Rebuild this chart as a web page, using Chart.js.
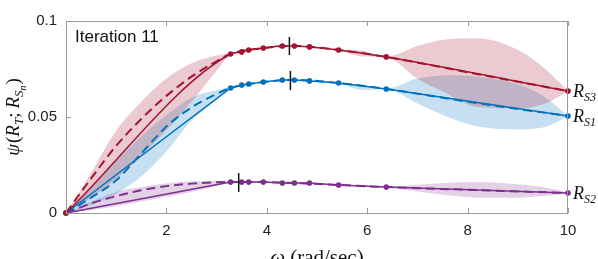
<!DOCTYPE html>
<html>
<head>
<meta charset="utf-8">
<script src="https://cdn.jsdelivr.net/npm/chart.js@4/dist/chart.umd.min.js"></script>
<style>
  body { margin: 0; background: #fff; }
  canvas { display: block; }
</style>
</head>
<body>
<canvas id="grafico" width="598" height="259"></canvas>
<script>
// observed points (omega, psi)
const xObs = [0, 3.28, 3.50, 3.64, 3.93, 4.31, 4.55, 4.85, 5.43, 6.38, 10];
const rS3 = [0, 0.0828, 0.0839, 0.0849, 0.0859, 0.0870, 0.0870, 0.0865, 0.0849, 0.0813, 0.0635];
const rS1 = [0, 0.0651, 0.0667, 0.0672, 0.0682, 0.0693, 0.0693, 0.0688, 0.0677, 0.0646, 0.0505];
const rS2 = [0, 0.0161, 0.0161, 0.0161, 0.0161, 0.0156, 0.0156, 0.0156, 0.0146, 0.0135, 0.0104];

// model mean (dashed)
const meanX = [0, 0.5, 1, 1.5, 2, 2.5, 3, 3.28, 3.93, 4.55, 5.43, 6.38, 8, 10];
const meanS3 = [0, 0.018, 0.035, 0.049, 0.061, 0.071, 0.079, 0.0828, 0.0859, 0.0870, 0.0849, 0.0813, 0.0733, 0.0635];
const meanS1 = [0, 0.008, 0.017, 0.031, 0.045, 0.055, 0.062, 0.0651, 0.0682, 0.0693, 0.0677, 0.0646, 0.0580, 0.0505];
const meanS2 = [0, 0.005, 0.0088, 0.0118, 0.0140, 0.0153, 0.0160, 0.0161, 0.0161, 0.0156, 0.0146, 0.0135, 0.0121, 0.0104];

// confidence bands
const bandX = [0, 0.5, 1, 1.5, 2, 2.5, 3, 3.28, 3.9, 4.55, 5.43, 5.9, 6.38, 7, 7.6, 8.2, 9, 9.5, 10];
const hiS3 = [0, 0.021, 0.043, 0.058, 0.070, 0.078, 0.082, 0.0832, 0.0862, 0.0873, 0.0852, 0.0845, 0.0815, 0.0870, 0.0905, 0.0910, 0.0850, 0.0760, 0.0637];
const loS3 = [0, 0.008, 0.018, 0.030, 0.043, 0.058, 0.074, 0.0824, 0.0856, 0.0867, 0.0846, 0.0815, 0.0811, 0.0700, 0.0620, 0.0552, 0.0545, 0.0565, 0.0633];
const hiS1 = [0, 0.013, 0.027, 0.040, 0.051, 0.060, 0.064, 0.0655, 0.0685, 0.0696, 0.0680, 0.0668, 0.0648, 0.0700, 0.0718, 0.0710, 0.0670, 0.0610, 0.0507];
const loS1 = [0, 0.004, 0.010, 0.019, 0.032, 0.048, 0.059, 0.0647, 0.0679, 0.0690, 0.0674, 0.0640, 0.0644, 0.0570, 0.0500, 0.0450, 0.0435, 0.0445, 0.0503];
const hiS2 = [0, 0.006, 0.011, 0.0135, 0.0155, 0.0165, 0.0168, 0.0164, 0.0163, 0.0158, 0.0148, 0.0143, 0.0137, 0.0147, 0.0158, 0.0162, 0.0150, 0.0135, 0.0106];
const loS2 = [0, 0.0015, 0.0035, 0.006, 0.0085, 0.011, 0.014, 0.0158, 0.0159, 0.0154, 0.0144, 0.0137, 0.0133, 0.0112, 0.0092, 0.0080, 0.0079, 0.0088, 0.0102];

// selected point markers (vertical bars)
const markX = [4.45, 4.47, 3.44];
const markLo = [0.0823, 0.064, 0.011];
const markHi = [0.0917, 0.074, 0.0208];

const seriesSub = ['S3', 'S1', 'S2'];
const xTicks = [2, 4, 6, 8, 10];
const yTicks = [0, 0.05, 0.1];

const cores = ['#A2142F', '#0072BD', '#7E2F8E'];
const faixas = ['rgba(162,20,47,0.22)', 'rgba(0,114,189,0.22)', 'rgba(126,47,142,0.22)'];
const curvo = [true, false, false]; // linha vermelha sai da origem curvada

const pts = (xs, ys) => xs.map((x, i) => ({ x: x, y: ys[i] }));

const obs = [rS3, rS1, rS2];
const means = [meanS3, meanS1, meanS2];
const his = [hiS3, hiS1, hiS2];
const los = [loS3, loS1, loS2];

const datasets = [];
for (let k = 0; k < 3; k++) {
  datasets.push({
    data: pts(bandX, his[k]), borderWidth: 0, pointRadius: 0,
    backgroundColor: faixas[k], fill: '+1', tension: 0.4, cubicInterpolationMode: 'monotone', order: 3
  });
  datasets.push({
    data: pts(bandX, los[k]), borderWidth: 0, pointRadius: 0,
    fill: false, tension: 0.4, cubicInterpolationMode: 'monotone', order: 3
  });
}
for (let k = 0; k < 3; k++) {
  datasets.push({
    data: pts(meanX, means[k]), borderColor: cores[k], borderWidth: 2, borderDash: [9, 5],
    pointRadius: 0, fill: false, cubicInterpolationMode: 'monotone', order: 2
  });
  datasets.push({
    data: pts(xObs, obs[k]), borderColor: cores[k], backgroundColor: cores[k], borderWidth: 1.5,
    pointRadius: 2.8, pointBorderWidth: 0, fill: false, clip: false, order: 1,
    tension: curvo[k] ? 0.4 : 0, cubicInterpolationMode: curvo[k] ? 'monotone' : 'default'
  });
  datasets.push({
    data: [{ x: markX[k], y: markLo[k] }, { x: markX[k], y: markHi[k] }],
    borderColor: '#111', borderWidth: 1.5, pointRadius: 0, fill: false, order: 0
  });
}

// caixa, ticks para dentro e textos (títulos em estilo LaTeX)
function runs(ctx, parts, x, y) {
  parts.forEach(p => {
    ctx.font = (p.it ? 'italic ' : '') + p.s + 'px "Liberation Serif"';
    ctx.fillText(p.t, x, y + (p.dy || 0));
    x += ctx.measureText(p.t).width + (p.gap || 0);
  });
}
function runsWidth(ctx, parts) {
  let w = 0;
  parts.forEach(p => {
    ctx.font = (p.it ? 'italic ' : '') + p.s + 'px "Liberation Serif"';
    w += ctx.measureText(p.t).width + (p.gap || 0);
  });
  return w;
}

const extras = {
  id: 'extras',
  afterDraw(chart) {
    const ctx = chart.ctx, a = chart.chartArea;
    const sx = chart.scales.x, sy = chart.scales.y;
    ctx.save();
    ctx.strokeStyle = '#9a9a9a';
    ctx.lineWidth = 1;
    ctx.strokeRect(a.left + 0.5, a.top + 0.5, a.right - a.left - 1, a.bottom - a.top);
    ctx.beginPath();
    xTicks.forEach(v => {
      const px = Math.round(sx.getPixelForValue(v)) + 0.5;
      ctx.moveTo(px, a.bottom); ctx.lineTo(px, a.bottom - 5);
      ctx.moveTo(px, a.top); ctx.lineTo(px, a.top + 5);
    });
    yTicks.forEach(v => {
      const py = Math.round(sy.getPixelForValue(v)) + 0.5;
      ctx.moveTo(a.left, py); ctx.lineTo(a.left + 5, py);
    });
    ctx.stroke();

    ctx.fillStyle = '#111';
    ctx.textBaseline = 'alphabetic';
    ctx.textAlign = 'left';
    ctx.font = '17px "Liberation Sans"';
    ctx.fillText('Iteration 11', a.left + 9, a.top + 21);

    // rótulos das séries
    obs.forEach((ys, k) => {
      const py = sy.getPixelForValue(ys[ys.length - 1]);
      runs(ctx, [
        { t: 'R', s: 18, it: true, gap: 0 },
        { t: seriesSub[k], s: 12, it: true, dy: 4 }
      ], a.right + 5, py + 6);
    });

    // eixo x
    const xl = [{ t: 'ω', s: 21, it: true, gap: 5 }, { t: '(rad/sec)', s: 21 }];
    const wx = runsWidth(ctx, xl);
    runs(ctx, xl, (a.left + a.right) / 2 - wx / 2, 264);

    // eixo y
    const yl = [
      { t: 'ψ', s: 19, it: true, gap: 1 },
      { t: '(', s: 19 },
      { t: 'R', s: 19, it: true },
      { t: 'T', s: 13, it: true, dy: 4 },
      { t: ';', s: 19, gap: 4 },
      { t: 'R', s: 19, it: true },
      { t: 'S', s: 13, it: true, dy: 4 },
      { t: 'n', s: 10, it: true, dy: 7, gap: 1 },
      { t: ')', s: 19 }
    ];
    const wy = runsWidth(ctx, yl);
    ctx.translate(19, (a.top + a.bottom) / 2);
    ctx.rotate(-Math.PI / 2);
    runs(ctx, yl, -wy / 2, 0);
    ctx.restore();
  }
};

const config = {
  type: 'line',
  data: { datasets: datasets },
  options: {
    responsive: false,
    animation: false,
    layout: { padding: { top: 21, right: 30, left: 0, bottom: 0 } },
    plugins: { legend: { display: false }, tooltip: { enabled: false } },
    scales: {
      x: {
        type: 'linear', min: 0, max: 10,
        afterFit: s => { s.height = 46; },
        afterBuildTicks: s => { s.ticks = xTicks.map(v => ({ value: v })); },
        ticks: { color: '#222', padding: 9, font: { family: 'Liberation Sans', size: 15 }, maxRotation: 0 },
        grid: { display: false, drawTicks: false, tickLength: 0 },
        border: { display: false }
      },
      y: {
        type: 'linear', min: 0, max: 0.1,
        afterFit: s => { s.width = 66; },
        afterBuildTicks: s => { s.ticks = yTicks.map(v => ({ value: v })); },
        ticks: { color: '#222', padding: 9, font: { family: 'Liberation Sans', size: 15 },
          callback: v => String(+v.toFixed(2)) },
        grid: { display: false, drawTicks: false, tickLength: 0 },
        border: { display: false }
      }
    }
  },
  plugins: [extras]
};

// criação do gráfico
const ctx = document.getElementById('grafico').getContext('2d');
const grafico = new Chart(ctx, config);
</script>
</body>
</html>
